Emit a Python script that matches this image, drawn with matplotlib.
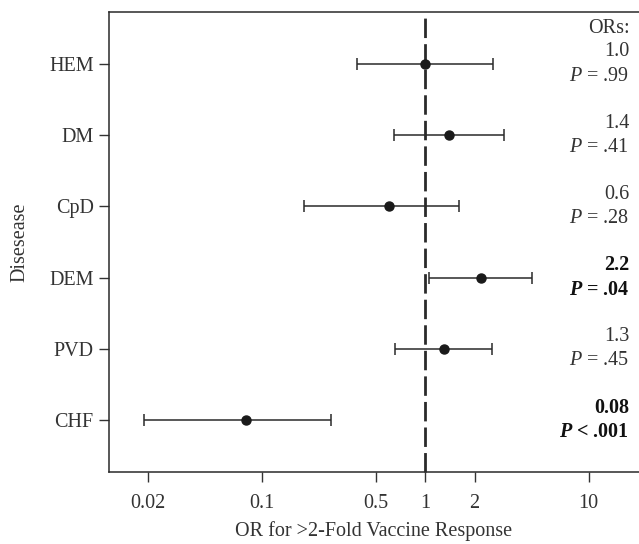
import matplotlib
matplotlib.use("Agg")
import matplotlib.pyplot as plt
import numpy as np

# odds ratios per comorbidity, top row first
diseases = ["HEM", "DM", "CpD", "DEM", "PVD", "CHF"]
odds_ratio = [1.0, 1.4, 0.6, 2.2, 1.3, 0.08]
ci_low = [0.38, 0.64, 0.18, 1.06, 0.65, 0.019]
ci_high = [2.6, 3.05, 1.6, 4.5, 2.57, 0.265]
or_labels = ["1.0", "1.4", "0.6", "2.2", "1.3", "0.08"]
p_labels = ["= .99", "= .41", "= .28", "= .04", "= .45", "< .001"]
significant = [False, False, False, True, False, True]
xticks = [0.02, 0.1, 0.5, 1, 2, 10]
xtick_labels = ["0.02", "0.1", "0.5", "1", "2", "10"]

plt.rcParams["font.family"] = ["Liberation Serif", "DejaVu Serif"]
plt.rcParams["mathtext.fontset"] = "custom"
plt.rcParams["mathtext.rm"] = "Liberation Serif"
plt.rcParams["mathtext.it"] = "Liberation Serif:italic"
plt.rcParams["mathtext.bf"] = "Liberation Serif:bold"
plt.rcParams["mathtext.bfit"] = "Liberation Serif:italic:bold"

text_col = "#333333"
line_col = "#2a2a2a"
fs = 14.5

fig = plt.figure(figsize=(6.39, 5.44), dpi=100)
ax = fig.add_axes([0.1706, 0.1324, 0.8294, 0.8456])

n = len(diseases)
ypos = np.arange(n, 0, -1)
odds = np.array(odds_ratio)
xerr = np.vstack([odds - np.array(ci_low), np.array(ci_high) - odds])

ax.axvline(1, color=line_col, lw=2, dashes=(7, 2.2), zorder=1, clip_on=False)
ax.errorbar(odds, ypos, xerr=xerr, fmt="o", color="#1a1a1a", ecolor=line_col,
            elinewidth=1.1, capsize=4, capthick=1.1, markersize=6.5, zorder=3)

ax.set_xscale("log")
ax.set_xlim(0.0116, 20.3)
ax.set_ylim(0.27, n + 0.73)
ax.set_xticks(xticks)
ax.set_xticklabels(xtick_labels)
ax.xaxis.set_minor_locator(matplotlib.ticker.NullLocator())
ax.set_yticks(ypos)
ax.set_yticklabels(diseases)
ax.tick_params(axis="both", labelsize=fs, colors=text_col, length=7, width=1)
ax.tick_params(axis="y", pad=4)
ax.tick_params(axis="x", pad=9)
for lbl in ax.get_xticklabels() + ax.get_yticklabels():
    lbl.set_color(text_col)

for side in ["left", "bottom", "top"]:
    ax.spines[side].set_color(line_col)
    ax.spines[side].set_linewidth(1.1)
ax.spines["right"].set_visible(False)

ax.set_xlabel("OR for >2-Fold Vaccine Response", fontsize=fs, color=text_col,
              labelpad=6)
ax.set_ylabel("Disesease", fontsize=fs, color=text_col, labelpad=14)

# OR and P value annotations on the right
xtxt = 17.7
off = 0.17
ax.text(xtxt, n + 0.5, "ORs:", ha="right", va="center", fontsize=fs,
        color=text_col)
for y, o, p, sig in zip(ypos, or_labels, p_labels, significant):
    if sig:
        ax.text(xtxt, y + off, o, ha="right", va="center", fontsize=fs,
                fontweight="bold", color="#111111")
        ax.text(xtxt, y - off, r"$\mathbfit{P}$ " + p, ha="right", va="center",
                fontsize=fs, fontweight="bold", color="#111111")
    else:
        ax.text(xtxt, y + off, o, ha="right", va="center", fontsize=fs,
                color=text_col)
        ax.text(xtxt, y - off, r"$\mathit{P}$ " + p, ha="right", va="center",
                fontsize=fs, color=text_col)

fig.savefig("out.png", dpi=100)
